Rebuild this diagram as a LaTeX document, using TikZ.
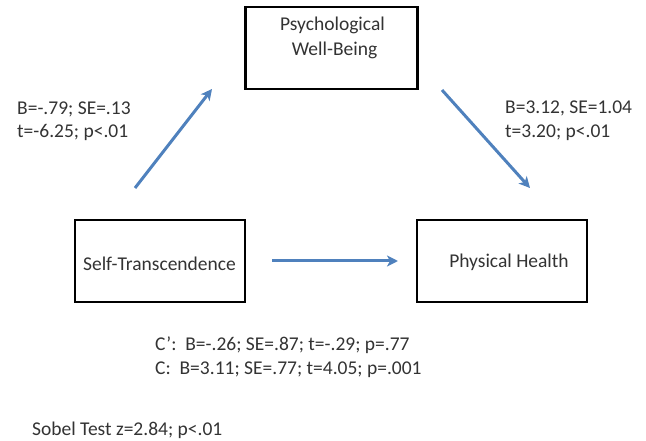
\documentclass[tikz,border=0pt]{standalone}
\usepackage{fontspec}
\setmainfont{Carlito}
\usetikzlibrary{arrows.meta}
\definecolor{arrowblue}{HTML}{4F81BD}
\definecolor{txtgray}{HTML}{333333}
\begin{document}
\begin{tikzpicture}[x=1pt,y=-1pt,
  box/.style={draw=black, line width=2.2pt, inner sep=0pt},
  lbl/.style={text=txtgray, font=\fontsize{19.5}{23}\selectfont, inner sep=0pt, anchor=base west},
  ctr/.style={text=txtgray, font=\fontsize{19.5}{23}\selectfont, inner sep=0pt, anchor=base},
  arr/.style={draw=arrowblue, line width=3pt, -{Stealth[length=11pt,width=11pt,inset=3pt]}}]
\useasboundingbox (0,0) rectangle (646,441);
% boxes
\node[box, minimum width=172pt, minimum height=82pt] (pwb) at (331.5,48) {};
\node[box, minimum width=170pt, minimum height=82pt] (st) at (160,261) {};
\node[box, minimum width=170pt, minimum height=82pt] (ph) at (502,261) {};
% box texts
\node[ctr] (pwb1) at (332.5,31) {Psychological};
\node[ctr] (pwb2) at (334.5,56) {Well-Being};
\node[ctr] (stt) at (159.5,270) {Self-Transcendence};
\node[ctr] (pht) at (509,267) {Physical Health};
% arrow end points
\coordinate (a1s) at (135,188);
\coordinate (a1e) at (212,89);
\coordinate (a2s) at (442,90);
\coordinate (a2e) at (530,188);
\coordinate (a3s) at (272,261);
\coordinate (a3e) at (398,261);
\draw[arr] (a1s) -- (a1e);
\draw[arr] (a2s) -- (a2e);
\draw[arr] (a3s) -- (a3e);
% labels
\node[lbl] (la1) at (17,115) {B=-.79; SE=.13};
\node[lbl] (la2) at (17,138) {t=-6.25; p<.01};
\node[lbl] (lb1) at (505,114) {B=3.12, SE=1.04};
\node[lbl] (lb2) at (505,138) {t=3.20; p<.01};
\node[lbl] (lc1) at (155,350) {C’:\ \ B=-.26; SE=.87; t=-.29; p=.77};
\node[lbl] (lc2) at (155,374) {C:\ \ B=3.11; SE=.77; t=4.05; p=.001};
\node[lbl] (sob) at (32,435) {Sobel Test z=2.84; p<.01};
\end{tikzpicture}
\end{document}
